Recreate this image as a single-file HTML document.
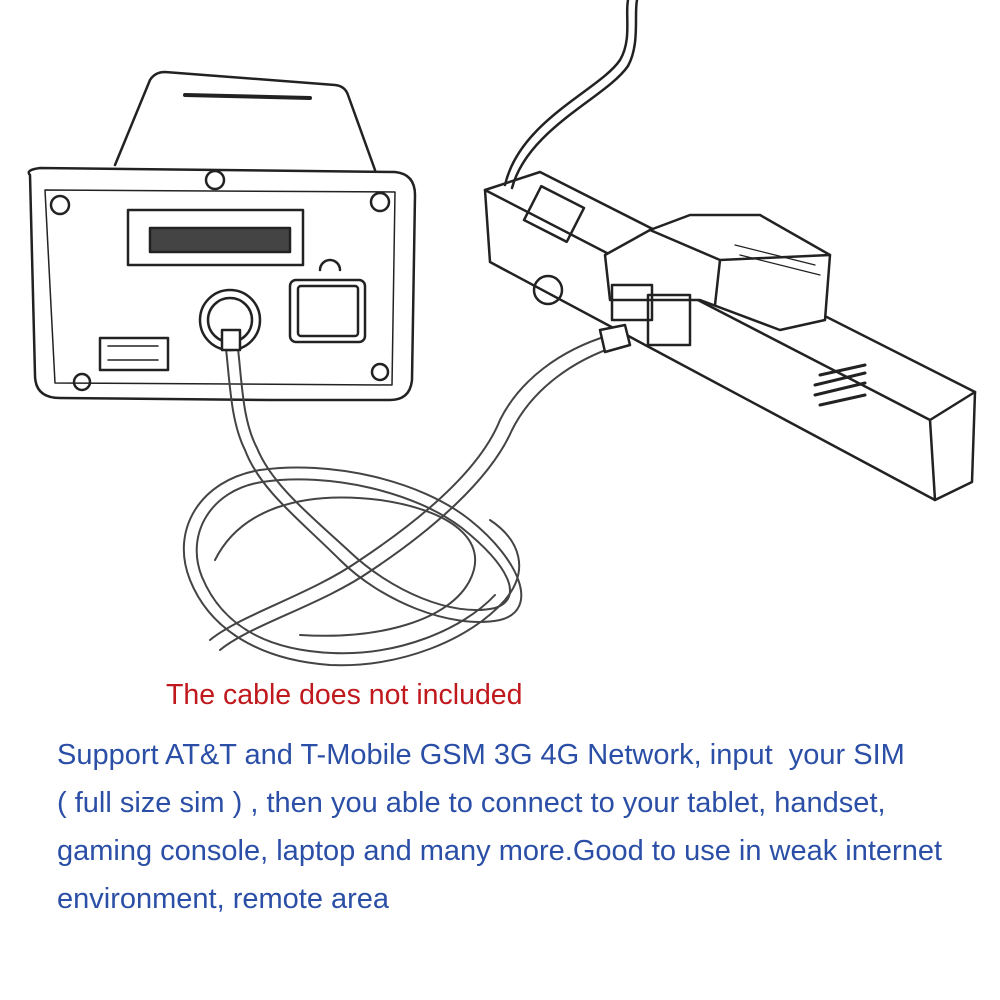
<!DOCTYPE html>
<html><head><meta charset="utf-8"><style>
body{margin:0;width:1000px;height:1000px;background:#fff;overflow:hidden;position:relative;font-family:"Liberation Sans","DejaVu Sans",sans-serif}
svg{position:absolute;left:0;top:0}
.t{position:absolute;left:57px;font-size:29px;color:#2b4fa6;white-space:nowrap}
</style></head><body>
<svg width="1000" height="1000" viewBox="0 0 1000 1000" fill="none" stroke="#222" stroke-width="2.5" stroke-linecap="round" stroke-linejoin="round">
<path d="M505 185 C520 120 600 90 620 60 C632 40 625 15 628 0"/>
<path d="M512 188 C528 128 606 98 628 66 C640 44 634 15 637 0"/>
<path d="M115 165 L150 80 Q155 72 165 72 L335 85 Q345 86 348 95 L375 170"/>
<path d="M185 95 L310 98" stroke-width="4"/>
<path d="M30 175 Q25 170 40 168 L395 172 Q415 174 415 195 L412 380 Q410 400 390 400 L270 400 L60 398 Q35 398 35 375 Z"/>
<path d="M45 190 L395 192 L392 385 L55 383 Z" stroke-width="1.5"/>
<circle cx="60" cy="205" r="9"/><circle cx="380" cy="202" r="9"/><circle cx="215" cy="180" r="9"/>
<circle cx="82" cy="382" r="8"/><circle cx="380" cy="372" r="8"/>
<rect x="128" y="210" width="175" height="55"/>
<rect x="150" y="228" width="140" height="24" fill="#444"/>
<rect x="290" y="280" width="75" height="62" rx="6"/>
<rect x="298" y="286" width="60" height="50" rx="3"/>
<path d="M320 270 a10 10 0 0 1 20 0"/>
<rect x="100" y="338" width="68" height="32"/>
<path d="M108 346h50M108 360h50" stroke-width="1.5"/>
<circle cx="230" cy="320" r="30"/><circle cx="230" cy="320" r="22"/>
<!-- power strip box -->
<path d="M485 190 L930 420 L935 500 L490 262 Z"/>
<path d="M485 190 L540 172 L975 392 L930 420"/>
<path d="M975 392 L972 482 L935 500"/>
<rect x="530" y="195" width="48" height="38" transform="rotate(27 554 214)"/>
<circle cx="548" cy="290" r="14"/>
<path d="M820 375 l45 -10 M815 385 l50 -12 M815 395 l50 -12 M820 405 l45 -10" stroke-width="3"/>
<!-- PoE injector -->
<path d="M605 255 L650 230 L690 215 L760 215 L830 255 L825 320 L780 330 L700 300 L665 300 L610 300 Z" fill="#fff"/>
<path d="M650 230 L720 260 L830 255 M720 260 L715 305"/>
<path d="M735 245 l80 20 M740 255 l80 20" stroke-width="1.3"/>
<rect x="612" y="285" width="40" height="35"/>
<rect x="648" y="295" width="42" height="50"/>
<g stroke="#444" stroke-width="2">
<path d="M225 340 C230 380 230 420 245 450 C260 490 300 520 340 560 C380 600 450 630 500 620 C540 610 520 560 470 520 C420 480 330 460 260 470 C200 480 170 530 190 580 C210 630 260 660 330 665 C400 668 470 640 505 600 C530 570 520 540 490 520"/>
<path d="M237 340 C242 380 242 420 257 448 C272 485 310 515 350 552 C390 590 452 618 495 608 C525 598 508 565 462 528 C415 492 330 472 262 482 C210 490 185 535 202 577 C222 625 265 650 332 653 C398 656 462 630 495 595"/>
<path d="M610 335 C560 350 520 380 500 420 C480 470 420 520 360 560 C310 595 240 615 210 640"/>
<path d="M620 345 C572 360 532 390 512 430 C490 480 432 530 372 570 C322 605 250 625 220 650"/>
<path d="M215 560 C240 510 300 490 380 500 C450 510 490 540 470 580 C450 620 380 640 300 635"/>
</g>
<path d="M222 330 L222 350 L240 350 L240 330 Z" fill="#fff"/>
<path d="M600 330 L625 325 L630 345 L605 352 Z" fill="#fff"/>
</svg>
<div class="t" style="left:166px;top:679px;color:#c0191d;font-size:28.5px">The cable does not included</div>
<div class="t" style="top:739px">Support AT&amp;T and T-Mobile GSM 3G 4G Network, input&nbsp; your SIM</div>
<div class="t" style="top:787px">( full size sim ) , then you able to connect to your tablet, handset,</div>
<div class="t" style="top:835px">gaming console, laptop and many more.Good to use in weak internet</div>
<div class="t" style="top:883px">environment, remote area</div>
</body></html>
